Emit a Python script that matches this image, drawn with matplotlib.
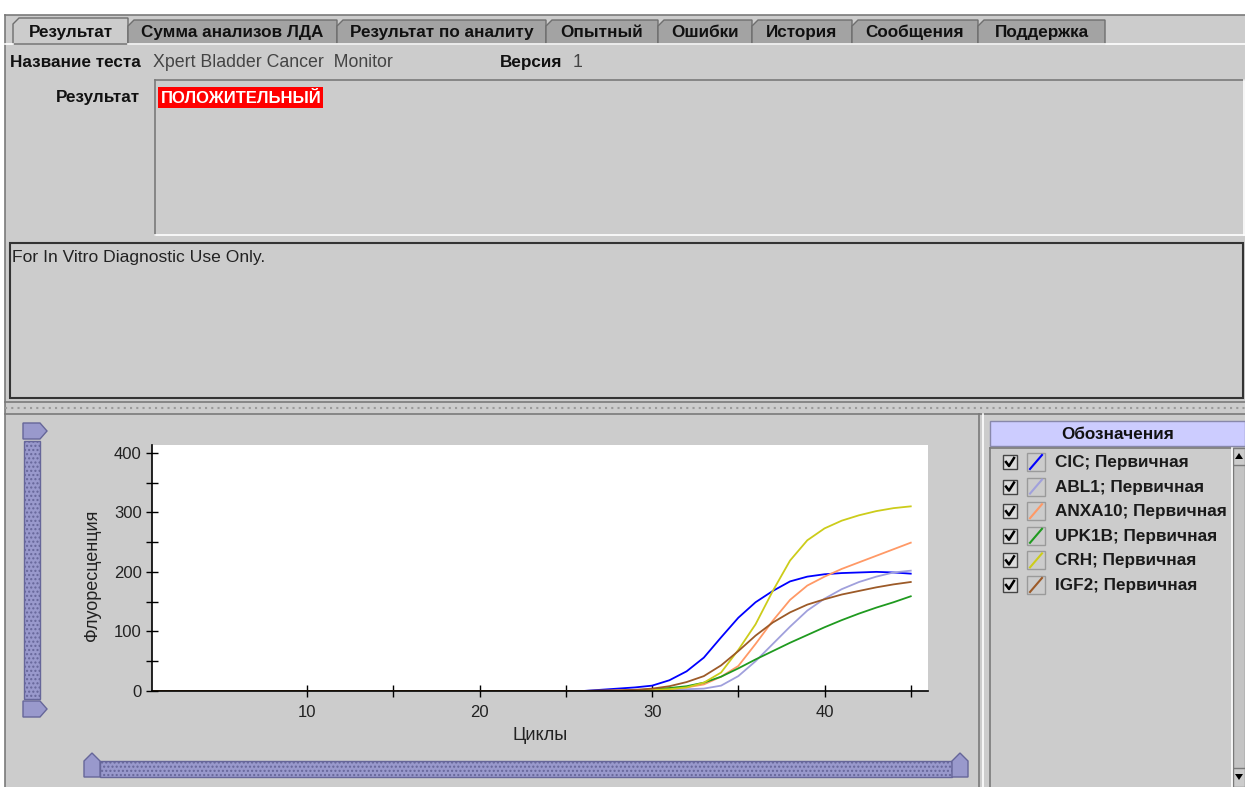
import matplotlib
matplotlib.use("Agg")
import matplotlib.pyplot as plt
from matplotlib.patches import Rectangle, Polygon
from matplotlib.ticker import FixedLocator, MultipleLocator

plt.rcParams['font.family'] = ['Liberation Sans', 'DejaVu Sans']

# вкладки окна
tab_names = ["Результат", "Сумма анализов ЛДА", "Результат по аналиту", "Опытный",
             "Ошибки", "История", "Сообщения", "Поддержка"]

# кривые амплификации (циклы 1..45)
cycles = list(range(1, 46))
cic = [0, 0, 0, 0, 0, 0, 0, 0, 0, 0, 0, 0, 0, 0, 0, 0, 0, 0, 0, 0, 0, 0, 0, 0, 0, 0,
       2, 4, 6, 9, 18, 33, 56, 90, 123, 149, 168, 184, 192, 196, 198, 199, 200, 199, 197]
abl1 = [0, 0, 0, 0, 0, 0, 0, 0, 0, 0, 0, 0, 0, 0, 0, 0, 0, 0, 0, 0, 0, 0, 0, 0, 0, 0,
        0, 0, 0, 1, 1, 3, 4, 9, 25, 50, 79, 108, 135, 155, 171, 183, 192, 199, 202]
anxa10 = [0, 0, 0, 0, 0, 0, 0, 0, 0, 0, 0, 0, 0, 0, 0, 0, 0, 0, 0, 0, 0, 0, 0, 0, 0, 0,
          0, 1, 1, 2, 3, 6, 11, 24, 42, 79, 118, 153, 177, 192, 205, 216, 227, 238, 249]
upk1b = [0, 0, 0, 0, 0, 0, 0, 0, 0, 0, 0, 0, 0, 0, 0, 0, 0, 0, 0, 0, 0, 0, 0, 0, 0, 0,
         0, 0, 1, 3, 5, 8, 14, 24, 38, 53, 67, 81, 94, 107, 119, 130, 140, 149, 159]
crh = [0, 0, 0, 0, 0, 0, 0, 0, 0, 0, 0, 0, 0, 0, 0, 0, 0, 0, 0, 0, 0, 0, 0, 0, 0, 0,
       0, 0, 1, 2, 3, 6, 14, 31, 69, 112, 168, 219, 253, 273, 286, 295, 302, 307, 310]
igf2 = [0, 0, 0, 0, 0, 0, 0, 0, 0, 0, 0, 0, 0, 0, 0, 0, 0, 0, 0, 0, 0, 0, 0, 0, 0, 0,
        1, 1, 2, 4, 8, 15, 25, 43, 67, 93, 115, 132, 145, 154, 162, 168, 174, 179, 183]

series_names = ["CIC", "ABL1", "ANXA10", "UPK1B", "CRH", "IGF2"]
series_values = [cic, abl1, anxa10, upk1b, crh, igf2]
series_colors = ["#0000ff", "#a0a0dc", "#ff9966", "#1f9a1f", "#cccc1a", "#9c5a28"]

W, H = 1245, 787
GRAY = "#cccccc"
DARK = "#7a7a7a"
LAV = "#9999cc"

fig = plt.figure(figsize=(W / 100, H / 100), dpi=100, facecolor=GRAY)
bg = fig.add_axes([0, 0, 1, 1])
bg.set_xlim(0, W)
bg.set_ylim(H, 0)
bg.axis('off')


def sunken(x0, y0, x1, y1, fill=None, dark=DARK):
    if fill:
        bg.add_patch(Rectangle((x0, y0), x1 - x0, y1 - y0, fc=fill, ec='none'))
    bg.plot([x0, x1], [y0, y0], color=dark, lw=1.2)
    bg.plot([x0, x0], [y0, y1], color=dark, lw=1.2)
    bg.plot([x0, x1], [y1, y1], color='white', lw=1.2)
    bg.plot([x1, x1], [y0, y1], color='white', lw=1.2)


# верхняя белая полоса
bg.add_patch(Rectangle((0, 0), W, 15, fc='white', ec='none'))
bg.add_patch(Rectangle((0, 0), 5, H, fc='white', ec='none'))
bg.plot([5, W], [15, 15], color=DARK, lw=1.2)
bg.plot([5, 5], [15, H], color=DARK, lw=1.2)

# вкладки
tab_edges = [13, 128, 337, 546, 658, 752, 852, 978, 1105]
for i, name in enumerate(tab_names):
    x0, x1 = tab_edges[i], tab_edges[i + 1]
    fc = GRAY if i == 0 else "#a3a3a3"
    top = 18 if i == 0 else 20
    pts = [(x0, 44), (x0, top + 6), (x0 + 6, top), (x1, top), (x1, 44)]
    bg.add_patch(Polygon(pts, closed=True, fc=fc, ec="#6e6e6e", lw=1))
    bg.text((x0 + x1) / 2, 37, name, ha='center', va='baseline', fontsize=12.3,
            fontweight='bold', color='#111111')
bg.plot([128, W], [44, 44], color='white', lw=1.2)
bg.plot([5, 13], [44, 44], color='white', lw=1.2)

# строка с названием теста
bg.text(10, 67, "Название теста", ha='left', va='baseline', fontsize=12.3,
        fontweight='bold', color='#111111')
bg.text(153, 67, "Xpert Bladder Cancer  Monitor", ha='left', va='baseline',
        fontsize=12.8, color='#444444')
bg.text(562, 67, "Версия", ha='right', va='baseline', fontsize=12.3,
        fontweight='bold', color='#111111')
bg.text(573, 67, "1", ha='left', va='baseline', fontsize=12.8, color='#444444')

# поле результата
bg.text(140, 102, "Результат", ha='right', va='baseline', fontsize=12.3,
        fontweight='bold', color='#111111')
sunken(155, 80, 1244, 235)
bg.add_patch(Rectangle((158, 87), 165, 21, fc='#ff0000', ec='none'))
bg.text(161, 103, "ПОЛОЖИТЕЛЬНЫЙ", ha='left', va='baseline', fontsize=12,
        fontweight='bold', color='white')

# текстовая область
bg.add_patch(Rectangle((10, 243), W - 12, 155, fc=GRAY, ec='#333333', lw=1.5))
bg.text(12, 262, "For In Vitro Diagnostic Use Only.", ha='left', va='baseline',
        fontsize=12.6, color='#222222')

# разделитель
bg.plot([5, W], [402, 402], color=DARK, lw=1.2)
bg.plot([5, W], [408, 408], color='#9a9a9a', lw=1.5, ls=(0, (1, 2)))
bg.plot([5, W], [414, 414], color=DARK, lw=1.2)

# правая панель с обозначениями
bg.plot([979, 979], [414, H], color=DARK, lw=1.2)
bg.plot([983, 983], [414, H], color='white', lw=1.2)
bg.add_patch(Rectangle((990, 421), 255, 25, fc='#ccccff', ec='#8888aa', lw=1))
bg.text(1118, 439, "Обозначения", ha='center', va='baseline', fontsize=12.3,
        fontweight='bold', color='#111111')
sunken(990, 448, 1232, H + 2)
bg.add_patch(Rectangle((1233, 448), 12, H - 448, fc='#c4c4c4', ec=DARK, lw=1))
bg.add_patch(Rectangle((1233, 448), 12, 17, fc=GRAY, ec=DARK, lw=1))
bg.add_patch(Polygon([(1235, 459), (1243, 459), (1239, 453)], fc='black'))
bg.add_patch(Rectangle((1233, 768), 12, 19, fc=GRAY, ec=DARK, lw=1))
bg.add_patch(Polygon([(1235, 774), (1243, 774), (1239, 780)], fc='black'))

for i, name in enumerate(series_names):
    yc = 462 + i * 24.6
    bg.add_patch(Rectangle((1003, yc - 7), 14, 14, fc='#dcdcdc', ec='#444444', lw=1))
    bg.plot([1006, 1009, 1014], [yc, yc + 4, yc - 4], color='black', lw=1.8)
    bg.add_patch(Rectangle((1027, yc - 9), 18, 18, fc=GRAY, ec='#9a9a9a', lw=1))
    bg.plot([1030, 1042], [yc + 7, yc - 7], color=series_colors[i], lw=1.5)
    bg.text(1055, yc + 5, name + "; Первичная", ha='left', va='baseline', fontsize=12.3,
            fontweight='bold', color='#1a1a1a')

# ползунки
bg.add_patch(Rectangle((24, 441), 16, 258, fc=LAV, ec='#666699', lw=1, hatch='....'))
for y0 in (423, 701):
    bg.add_patch(Polygon([(23, y0), (40, y0), (47, y0 + 8), (40, y0 + 16), (23, y0 + 16)],
                         fc=LAV, ec='#666699', lw=1))
bg.add_patch(Rectangle((100, 761), 852, 16, fc=LAV, ec='#666699', lw=1, hatch='....'))
for x0 in (84, 952):
    bg.add_patch(Polygon([(x0, 777), (x0, 761), (x0 + 8, 753), (x0 + 16, 761), (x0 + 16, 777)],
                         fc=LAV, ec='#666699', lw=1))

# график
ax = fig.add_axes([152 / W, 1 - 691 / H, (928 - 152) / W, (691 - 445) / H])
ax.set_facecolor('white')
for name, vals, col in zip(series_names, series_values, series_colors):
    ax.plot(cycles, vals, color=col, lw=1.3)
ax.set_xlim(1, 46)
ax.set_ylim(0, 413)
ax.spines['top'].set_visible(False)
ax.spines['right'].set_visible(False)
ax.spines['left'].set_linewidth(1.2)
ax.spines['bottom'].set_linewidth(1.2)
ax.xaxis.set_major_locator(FixedLocator([10, 20, 30, 40]))
ax.xaxis.set_minor_locator(FixedLocator([15, 25, 35, 45]))
ax.yaxis.set_major_locator(MultipleLocator(100))
ax.yaxis.set_minor_locator(MultipleLocator(50))
ax.tick_params(which='both', direction='inout', length=8, width=1, colors='black',
               labelsize=12, labelcolor='#222222')
ax.tick_params(axis='x', pad=6)

bg.text(540, 735, "Циклы", ha='center', va='center', fontsize=13, color='#222222')
bg.text(93, 575, "Флуоресценция", ha='center', va='center', rotation=90,
        fontsize=13, color='#222222')

fig.savefig("out.png", dpi=100, facecolor=GRAY)
